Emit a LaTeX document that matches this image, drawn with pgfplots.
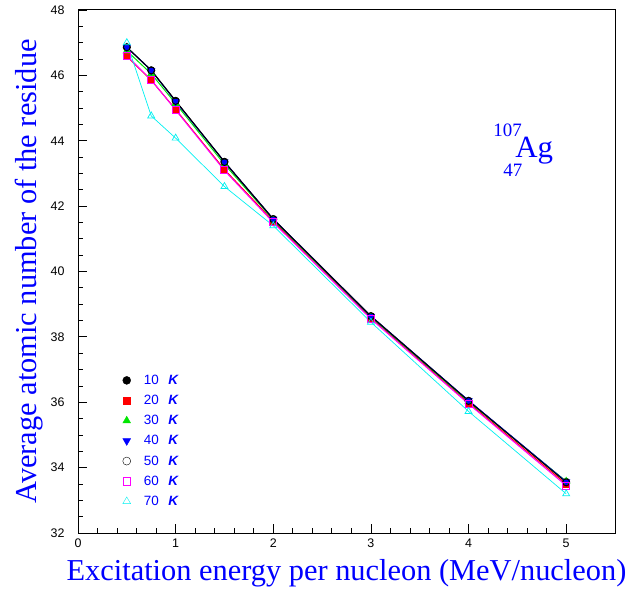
\documentclass[border=0pt]{standalone}
\usepackage{fontspec}
\setmainfont{Liberation Serif}
\setsansfont{Liberation Sans}
\usepackage{pgfplots}
\pgfplotsset{compat=1.18}
\definecolor{cblue}{RGB}{0,0,255}
\definecolor{cgreen}{RGB}{0,230,0}
\definecolor{ccyan}{RGB}{0,240,240}
\definecolor{pinkmag}{RGB}{255,0,255}
\definecolor{cred}{RGB}{255,0,0}
\begin{document}
\begin{tikzpicture}[x=1bp,y=1bp]
\begin{axis}[
  name=ax,
  scale only axis, width=537bp, height=523bp,
  xmin=0, xmax=5.5, ymin=32, ymax=48,
  xtick={0,1,2,3,4,5}, ytick={32,34,...,48},
  minor x tick num=4, minor y tick num=3,
  tick align=inside, xtick pos=lower, ytick pos=left,
  major tick length=9bp, minor tick length=5bp,
  tick style={black, line width=0.8pt},
  axis line style={black, line width=1pt},
  /pgf/number format/assume math mode=true,
  ticklabel style={font=\sffamily\fontsize{12.5}{13}\selectfont},
  xticklabel style={yshift=-2bp},
  yticklabel style={xshift=-10bp},
  xlabel={Excitation energy per nucleon (MeV/nucleon)},
  ylabel={Average atomic number of the residue},
  label style={text=cblue, font=\fontsize{30.5}{32}\selectfont},
  xlabel style={yshift=-5bp},
  ylabel style={yshift=1bp},
  legend style={draw=none, fill=none, at={(0.077,0.042)}, anchor=south west,
    font=\sffamily\fontsize{13.5}{14}\selectfont, text=cblue,
    row sep=5.3bp, cells={anchor=west}},
  legend image code/.code={\draw[#1] plot coordinates {(0cm,0cm)}; \path (-4bp,0) (15bp,0);},
]
\addlegendimage{only marks, mark=*, black, mark size=4bp}
\addlegendentry{10\hspace{0.7em}\textbf{\textit{K}}}
\addlegendimage{only marks, mark=square*, cred, mark size=3.8bp}
\addlegendentry{20\hspace{0.7em}\textbf{\textit{K}}}
\addlegendimage{only marks, mark=triangle*, cgreen, mark size=4.5bp}
\addlegendentry{30\hspace{0.7em}\textbf{\textit{K}}}
\addlegendimage{only marks, mark=triangle*, mark options={rotate=180}, cblue, mark size=4.5bp}
\addlegendentry{40\hspace{0.7em}\textbf{\textit{K}}}
\addlegendimage{only marks, mark=o, black, mark size=4bp}
\addlegendentry{50\hspace{0.7em}\textbf{\textit{K}}}
\addlegendimage{only marks, mark=square, pinkmag, mark size=3.8bp}
\addlegendentry{60\hspace{0.7em}\textbf{\textit{K}}}
\addlegendimage{only marks, mark=triangle, ccyan, mark size=4.5bp}
\addlegendentry{70\hspace{0.7em}\textbf{\textit{K}}}

% 10 K
\addplot[forget plot, black, line width=1pt, mark=*, mark size=3.3bp] coordinates {
(0.5,46.86) (0.75,46.16) (1,45.22) (1.5,43.36) (2,41.61) (3,38.64) (4,36.05) (5,33.57)};
% 20 K
\addplot[forget plot, cred, line width=1pt, mark=square*, mark size=3.2bp] coordinates {
(0.5,46.58) (0.75,45.85) (1,44.96) (1.5,43.12) (2,41.54) (3,38.58) (4,35.98) (5,33.50)};
% 30 K
\addplot[forget plot, cgreen, line width=1pt, mark=triangle*, mark size=3.8bp] coordinates {
(0.5,46.75) (0.75,46.05) (1,45.14) (1.5,43.28) (2,41.58) (3,38.61) (4,36.02) (5,33.58)};
% 40 K
\addplot[forget plot, cblue, line width=1pt, mark=triangle*, mark options={rotate=180}, mark size=3.8bp] coordinates {
(0.5,46.86) (0.75,46.15) (1,45.20) (1.5,43.35) (2,41.60) (3,38.63) (4,36.05) (5,33.57)};
% 50 K
\addplot[forget plot, black, line width=1pt, mark=o, mark size=3.5bp] coordinates {
(0.5,46.86) (0.75,46.15) (1,45.22) (1.5,43.35) (2,41.60) (3,38.63) (4,36.04) (5,33.55)};
% 60 K
\addplot[forget plot, pinkmag, line width=1pt, mark=square, mark size=3.5bp] coordinates {
(0.5,46.60) (0.75,45.86) (1,44.94) (1.5,43.09) (2,41.50) (3,38.55) (4,35.95) (5,33.45)};
% 70 K
\addplot[forget plot, ccyan, line width=0.7pt, mark=triangle, mark size=4bp] coordinates {
(0.5,47.00) (0.75,44.76) (1,44.08) (1.5,42.60) (2,41.40) (3,38.45) (4,35.72) (5,33.20)};

\node[text=cblue, font=\fontsize{31}{32}\selectfont, anchor=base west, inner sep=0pt] at (axis cs:4.477,43.50) {Ag};
\node[text=cblue, font=\fontsize{19}{20}\selectfont, anchor=base west, inner sep=0pt] at (axis cs:4.252,44.12) {107};
\node[text=cblue, font=\fontsize{19}{20}\selectfont, anchor=base west, inner sep=0pt] at (axis cs:4.355,42.92) {47};
\end{axis}
\path[use as bounding box] ([xshift=-78bp,yshift=-63bp]ax.south west) rectangle ([xshift=16bp,yshift=10bp]ax.north east);
\end{tikzpicture}
\end{document}
